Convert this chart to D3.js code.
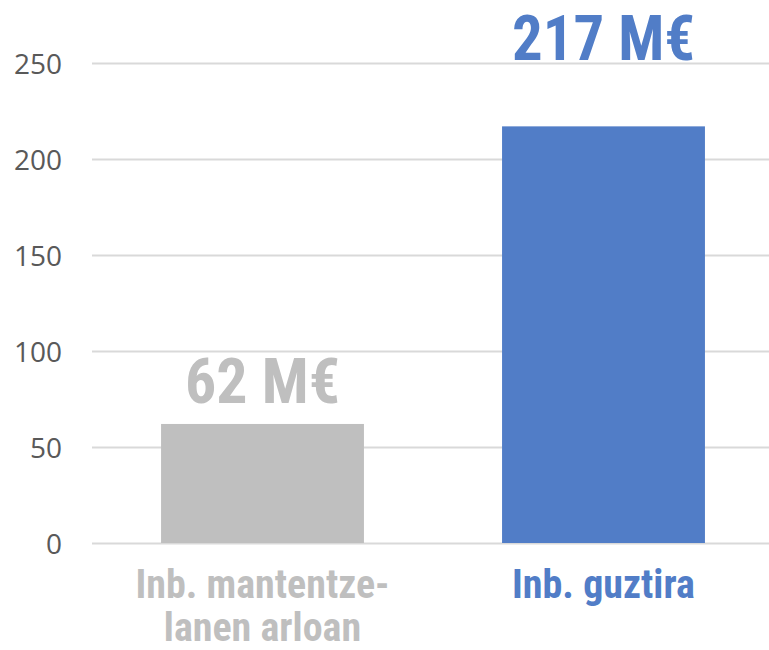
<!DOCTYPE html>
<html><head><meta charset="utf-8">
<script src="https://cdn.jsdelivr.net/npm/d3@7"></script>
<style>body{margin:0;background:#fff}svg{display:block}</style>
</head><body>
<svg id="c" width="769" height="650"></svg>
<script>
const categories = ["Inb. mantentze-lanen arloan", "Inb. guztira"];
const categoryLines = [["Inb. mantentze-", "lanen arloan"], ["Inb. guztira"]];
const values = [62, 217];
const valueUnit = " M€";
const yTicks = [0, 50, 100, 150, 200, 250];
const barColors = ["#bfbfbf", "#517dc7"];

const svg = d3.select("#c");
const x = d3.scaleBand().domain(categories).range([92, 774]).paddingInner(0.405).paddingOuter(0.2025);
const y = d3.scaleLinear().domain([0, 250]).range([543, 63]);
const condensed = "'Liberation Sans Narrow','Arial Narrow','Roboto Condensed','Liberation Sans',sans-serif";

// gridlines
svg.append("g").selectAll("line").data(yTicks).join("line")
  .attr("x1", 92).attr("x2", 769)
  .attr("y1", d => Math.round(y(d)) + 0.5).attr("y2", d => Math.round(y(d)) + 0.5)
  .attr("stroke", "#d9d9d9").attr("stroke-width", 2);

// y axis labels
const yAxis = svg.append("g").attr("transform", "translate(62,0)")
  .call(d3.axisLeft(y).tickValues(yTicks).tickSize(0).tickPadding(0));
yAxis.select(".domain").remove();
yAxis.selectAll("text").attr("font-family", "'Open Sans','Noto Sans',sans-serif")
  .attr("font-size", 28).attr("fill", "#595959").attr("dy", "0.36em");

// bars
svg.append("g").selectAll("rect").data(values).join("rect")
  .attr("x", (d, i) => x(categories[i])).attr("width", x.bandwidth())
  .attr("y", d => y(d)).attr("height", d => y(0) - y(d))
  .attr("fill", (d, i) => barColors[i]);

// value labels: above the bar; a tall bar's label is lifted above the top gridline
const topY = y(d3.max(yTicks));
svg.append("g").selectAll("text").data(values).join("text")
  .attr("x", (d, i) => x(categories[i]) + x.bandwidth() / 2)
  .attr("y", d => (y(d) - topY < 100) ? topY - 3 : y(d) - 21)
  .attr("text-anchor", "middle")
  .attr("font-family", condensed).attr("font-weight", "bold")
  .attr("font-size", 63)
  .attr("fill", (d, i) => barColors[i])
  .attr("textLength", d => d > 100 ? 183 : 155)
  .attr("lengthAdjust", "spacingAndGlyphs")
  .text(d => d + valueUnit);

// category labels
const cg = svg.append("g");
categories.forEach((c, i) => {
  const t = cg.append("text")
    .attr("text-anchor", "middle")
    .attr("font-family", condensed).attr("font-weight", "bold")
    .attr("font-size", 40).attr("fill", barColors[i]);
  categoryLines[i].forEach((line, j) => {
    t.append("tspan").attr("x", x(c) + x.bandwidth() / 2)
      .attr("y", 598 + j * 43).text(line);
  });
});
</script>
</body></html>
